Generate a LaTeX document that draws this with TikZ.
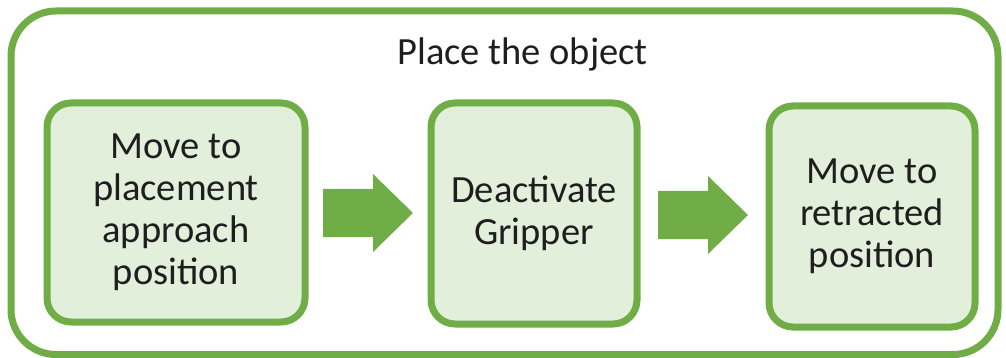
\documentclass[tikz,border=0pt]{standalone}
\usepackage{fontspec}
\setmainfont{Carlito}
\usetikzlibrary{positioning,calc}

\definecolor{stepgreen}{HTML}{70AD47}
\definecolor{stepfill}{HTML}{E2EFDA}
\definecolor{steptext}{HTML}{1E1E1E}

\begin{document}
\begin{tikzpicture}[x=1pt, y=-1pt]
  \tikzset{
    frame/.style={draw=stepgreen, line width=7pt, rounded corners=45pt},
    stepbox/.style={draw=stepgreen, fill=stepfill, line width=7pt, rounded corners=24pt,
      minimum height=220pt, align=center, text=steptext,
      font=\fontsize{38.5}{42}\selectfont},
    flowarr/.style={fill=stepgreen},
  }

  \useasboundingbox (0,0) rectangle (1006,358);

  \draw[frame] (11,11) rectangle (998,354.5);
  \node[anchor=base, text=steptext, font=\fontsize{38.5}{42}\selectfont] (title) at (522.5,65) {Place the object};

  \node[stepbox, minimum width=258pt, minimum height=219pt] (m1) at (176,212.5)
    {Move to\\placement\\approach\\position};
  \node[stepbox, minimum width=206pt, minimum height=221pt] (m2) at (534,213.5)
    {Deactivate\\Gripper};
  \node[stepbox, minimum width=206pt, minimum height=221pt] (m3) at (872,216.5)
    {Move to\\retracted\\position};

  % block arrows between the steps
  \coordinate (a1) at ($(m1.east)!0.5!(m2.west)$);
  \coordinate (a2) at ($(m2.east)!0.5!(m3.west)$);
  \foreach \a in {a1,a2}
    \fill[flowarr] (\a) ++(-45,-24) -- ++(50,0) -- ++(0,-15) -- ++(40,39)
      -- ++(-40,39) -- ++(0,-15) -- ++(-50,0) -- cycle;
\end{tikzpicture}
\end{document}
